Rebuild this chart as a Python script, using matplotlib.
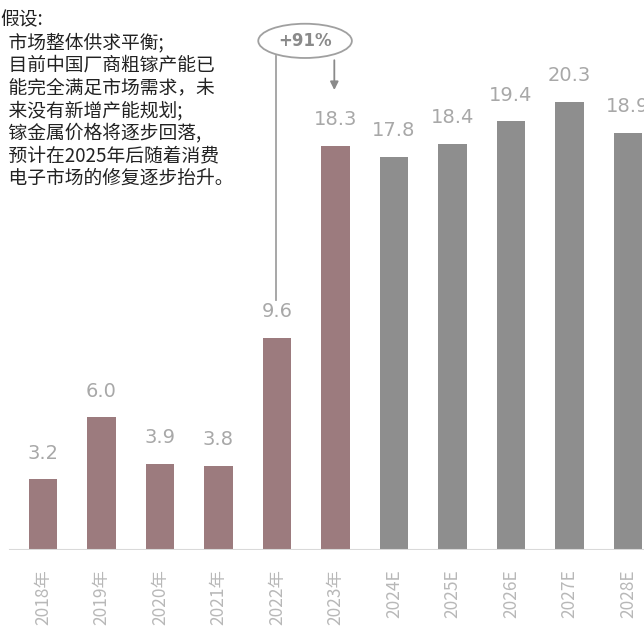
import matplotlib.pyplot as plt
from matplotlib.patches import Ellipse

plt.rcParams['font.family'] = ['Noto Sans CJK SC', 'DejaVu Sans']

years = ['2018年', '2019年', '2020年', '2021年', '2022年', '2023年',
         '2024E', '2025E', '2026E', '2027E', '2028E']
values = [3.2, 6.0, 3.9, 3.8, 9.6, 18.3, 17.8, 18.4, 19.4, 20.3, 18.9]
n_hist = 6
growth_label = '+91%'
note = ('假设:\n'
        '  市场整体供求平衡;\n'
        '  目前中国厂商粗镓产能已\n'
        '  能完全满足市场需求，未\n'
        '  来没有新增产能规划;\n'
        '  镓金属价格将逐步回落,\n'
        '  预计在2025年后随着消费\n'
        '  电子市场的修复逐步抬升。')

hist_color = '#9c7b7e'
fcst_color = '#8e8e8e'

fig = plt.figure(figsize=(6.44, 6.31), dpi=100)
ax = fig.add_axes([0, 81 / 631, 1, 550 / 631])

x = list(range(len(values)))
colors = [hist_color if i < n_hist else fcst_color for i in x]
ax.bar(x, values, width=0.48, color=colors, zorder=2)

for i, v in enumerate(values):
    ax.text(i, v + 0.75, f'{v:.1f}', ha='center', va='bottom',
            fontsize=14, color='#a8a8a8', family='DejaVu Sans')

ax.set_xlim(-0.735, 10.274)
ax.set_ylim(0, 24.9)
ax.axhline(0, xmin=0.015, xmax=1, color='#d9d9d9', lw=1.5, zorder=3)

ax.set_xticks(x)
ax.set_xticklabels(years, rotation=90, fontsize=12.5, color='#b8b8b8')
ax.tick_params(axis='x', length=0, pad=14)
ax.set_yticks([])
for s in ax.spines.values():
    s.set_visible(False)

# growth bubble between 2022 and 2023
ex, ey = 4.48, 23.05
ax.add_patch(Ellipse((ex, ey), 1.6, 1.55, fill=False, edgecolor='#a0a0a0',
                     lw=1.3, clip_on=False))
ax.text(ex, ey, growth_label, ha='center', va='center', fontsize=12,
        color='#8a8a8a', fontweight='bold', family='DejaVu Sans')
ax.plot([3.98, 3.98], [ey - 0.7, values[4] + 1.7], color='#a0a0a0', lw=1.3)
ax.annotate('', xy=(4.98, values[5] + 2.4), xytext=(4.98, ey - 0.75),
            arrowprops=dict(arrowstyle='-|>', color='#8a8a8a', lw=1.3,
                            mutation_scale=12))

fig.text(0.0, 0.985, note, ha='left', va='top', fontsize=13.5,
         color='#222222', linespacing=1.1)

fig.savefig('out.png', dpi=100)
